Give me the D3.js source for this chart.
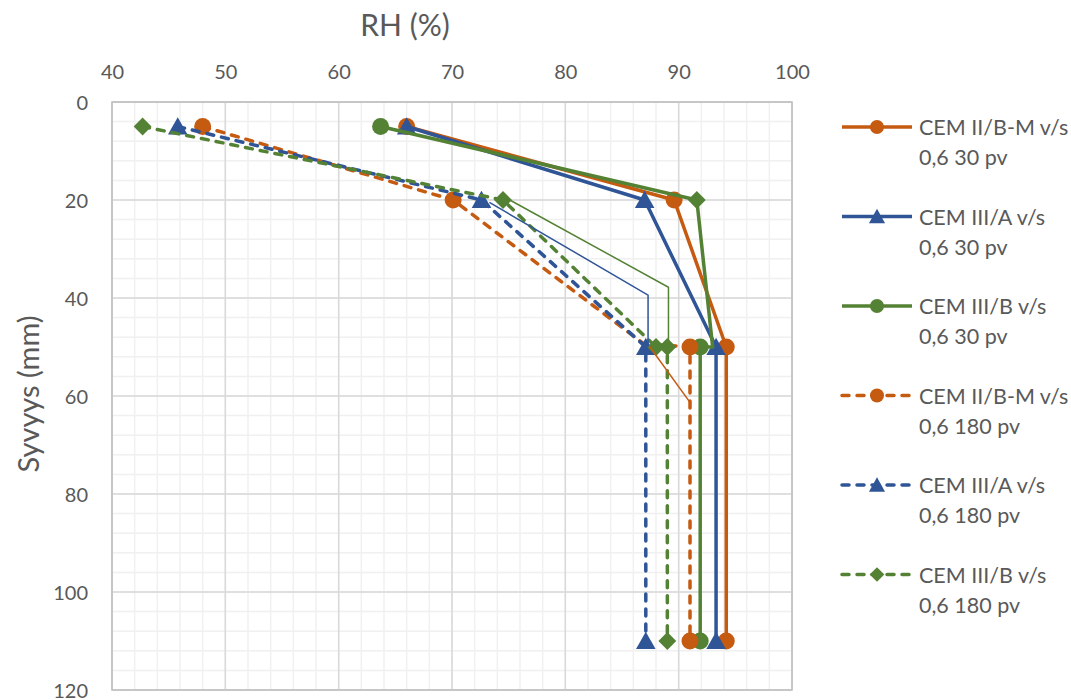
<!DOCTYPE html>
<html>
<head>
<meta charset="utf-8">
<script src="https://cdn.jsdelivr.net/npm/d3@7"></script>
<style>
  body { margin: 0; background: #fff; }
  text { font-family: Lato, "Open Sans", sans-serif; fill: #595959; }
</style>
</head>
<body>
<div id="chart"></div>
<script>
// axis ticks
var rhTicks = [40, 50, 60, 70, 80, 90, 100],
    depthTicks = [0, 20, 40, 60, 80, 100, 120];

// series: [RH %, depth mm]
var seriesNames = [
  ["CEM II/B-M v/s", "0,6 30 pv"],
  ["CEM III/A v/s", "0,6 30 pv"],
  ["CEM III/B v/s", "0,6 30 pv"],
  ["CEM II/B-M v/s", "0,6 180 pv"],
  ["CEM III/A v/s", "0,6 180 pv"],
  ["CEM III/B v/s", "0,6 180 pv"]
];
var cem2bm30 = [[66.0, 5], [89.6, 20], [94.2, 50], [94.2, 110]],
    cem3a30 = [[66.0, 5], [87.0, 20], [93.3, 50], [93.3, 110]],
    cem3b30 = [[63.7, 5], [91.6, 20], [93.0, 50], [91.9, 50], [91.9, 110]],
    cem2bm180 = [[48.0, 5], [70.1, 20], [86.9, 49.3], [91.0, 50], [91.0, 110]],
    cem3a180 = [[45.8, 5], [72.6, 20], [87.1, 50], [87.1, 110]],
    cem3b180 = [[42.7, 5], [74.5, 20], [88.0, 50], [89.0, 50], [89.0, 110]];
// which points carry a marker (0 = none, 1 = series marker, 2 = diamond)
var cem2bm30Marks = [1, 1, 1, 1],
    cem3a30Marks = [1, 1, 1, 1],
    cem3b30Marks = [1, 2, 0, 1, 1],
    cem2bm180Marks = [1, 1, 0, 1, 1],
    cem3a180Marks = [1, 1, 1, 1],
    cem3b180Marks = [1, 1, 1, 1, 1];
// thin helper lines without markers
var thinBlue = [[73.3, 20.5], [87.3, 39.4], [87.3, 50]],
    thinGreen = [[75.1, 20], [89.1, 37.8], [89.1, 49.5]],
    thinOrange = [[87.4, 49.8], [91.0, 61.3]];

var width = 1071, height = 700,
    plotLeft = 112, plotRight = 792, plotTop = 102, plotBottom = 690,
    orange = "#c55a11", blue = "#2f5597", green = "#548235";

var svg = d3.select("#chart").append("svg").attr("width", width).attr("height", height);

var x = d3.scaleLinear().domain([40, 100]).range([plotLeft, plotRight]);
var y = d3.scaleLinear().domain([0, 120]).range([plotTop, plotBottom]);

// gridlines
var grid = svg.append("g");
grid.selectAll("line.mx").data(d3.range(40, 100.1, 2)).enter().append("line")
  .attr("x1", function(d) { return x(d); }).attr("x2", function(d) { return x(d); })
  .attr("y1", plotTop).attr("y2", plotBottom)
  .attr("stroke", "#f0f0f0").attr("stroke-width", 1.5);
grid.selectAll("line.my").data(d3.range(0, 120.1, 4)).enter().append("line")
  .attr("y1", function(d) { return y(d); }).attr("y2", function(d) { return y(d); })
  .attr("x1", plotLeft).attr("x2", plotRight)
  .attr("stroke", "#f0f0f0").attr("stroke-width", 1.5);
grid.selectAll("line.gx").data(rhTicks).enter().append("line")
  .attr("x1", function(d) { return x(d); }).attr("x2", function(d) { return x(d); })
  .attr("y1", plotTop).attr("y2", plotBottom)
  .attr("stroke", "#d9d9d9").attr("stroke-width", 1.5);
grid.selectAll("line.gy").data(depthTicks).enter().append("line")
  .attr("y1", function(d) { return y(d); }).attr("y2", function(d) { return y(d); })
  .attr("x1", plotLeft).attr("x2", plotRight)
  .attr("stroke", "#d9d9d9").attr("stroke-width", 1.5);
svg.append("rect").attr("x", plotLeft).attr("y", plotTop)
  .attr("width", plotRight - plotLeft).attr("height", plotBottom - plotTop)
  .attr("fill", "none").attr("stroke", "#bfbfbf").attr("stroke-width", 1.5);

// axes (labels only)
var xAxis = svg.append("g").attr("transform", "translate(0," + (plotTop - 23) + ")")
  .call(d3.axisTop(x).tickValues(rhTicks).tickSize(0).tickPadding(0));
var yAxis = svg.append("g").attr("transform", "translate(" + (plotLeft - 24) + ",0)")
  .call(d3.axisLeft(y).tickValues(depthTicks).tickSize(0).tickPadding(0));
svg.selectAll(".domain").remove();
svg.selectAll(".tick text").attr("font-size", 20).attr("fill", "#595959")
  .attr("font-family", "Lato, sans-serif");
yAxis.selectAll(".tick text").attr("dy", "0.35em");

svg.append("text").attr("x", 405).attr("y", 36).attr("text-anchor", "middle")
  .attr("font-size", 30).text("RH (%)");
svg.append("text").attr("transform", "translate(39,394) rotate(-90)")
  .attr("text-anchor", "middle").attr("font-size", 29).text("Syvyys (mm)");

var line = d3.line().x(function(d) { return x(d[0]); }).y(function(d) { return y(d[1]); });

var marker = function(g, shape, color, cx, cy, s) {
  if (shape === "circle") {
    g.append("circle").attr("cx", cx).attr("cy", cy).attr("r", s).attr("fill", color);
  } else if (shape === "triangle") {
    g.append("path").attr("d", "M" + cx + "," + (cy - s * 1.1) + "L" + (cx + s * 1.15) + "," + (cy + s * 0.95) +
      "L" + (cx - s * 1.15) + "," + (cy + s * 0.95) + "Z").attr("fill", color);
  } else if (shape === "diamond") {
    g.append("path").attr("d", "M" + cx + "," + (cy - s * 1.05) + "L" + (cx + s * 1.05) + "," + cy +
      "L" + cx + "," + (cy + s * 1.05) + "L" + (cx - s * 1.05) + "," + cy + "Z").attr("fill", color);
  }
};

var series = [
  { data: cem2bm30, marks: cem2bm30Marks, color: orange, dash: null, shape: "circle" },
  { data: cem3a30, marks: cem3a30Marks, color: blue, dash: null, shape: "triangle" },
  { data: cem3b30, marks: cem3b30Marks, color: green, dash: null, shape: "circle" },
  { data: cem2bm180, marks: cem2bm180Marks, color: orange, dash: "7,8", shape: "circle" },
  { data: cem3a180, marks: cem3a180Marks, color: blue, dash: "7,8", shape: "triangle" },
  { data: cem3b180, marks: cem3b180Marks, color: green, dash: "7,8", shape: "diamond" }
];

var plot = svg.append("g");
series.forEach(function(s) {
  var g = plot.append("g");
  g.append("path").attr("d", line(s.data)).attr("fill", "none")
    .attr("stroke", s.color).attr("stroke-width", 3.5)
    .attr("stroke-dasharray", s.dash).attr("stroke-linecap", s.dash ? "round" : "butt")
    .attr("stroke-linejoin", "round");
  s.data.forEach(function(d, i) {
    if (s.marks[i] === 0) return;
    marker(g, s.marks[i] === 2 ? "diamond" : s.shape, s.color, x(d[0]), y(d[1]), 8.5);
  });
});

[[thinBlue, blue], [thinGreen, green], [thinOrange, orange]].forEach(function(t) {
  plot.append("path").attr("d", line(t[0])).attr("fill", "none")
    .attr("stroke", t[1]).attr("stroke-width", 1.5);
});

// legend
var legend = svg.append("g");
series.forEach(function(s, i) {
  var ly = 127 + i * 89.5;
  legend.append("line").attr("x1", 842).attr("x2", 912).attr("y1", ly).attr("y2", ly)
    .attr("stroke", s.color).attr("stroke-width", 3.5)
    .attr("stroke-dasharray", s.dash).attr("stroke-linecap", s.dash ? "round" : "butt");
  marker(legend, s.shape, s.color, 877, ly, 7);
  legend.append("text").attr("x", 919).attr("y", ly + 8).attr("font-size", 21.5).text(seriesNames[i][0]);
  legend.append("text").attr("x", 919).attr("y", ly + 38).attr("font-size", 21.5).text(seriesNames[i][1]);
});
</script>
</body>
</html>
